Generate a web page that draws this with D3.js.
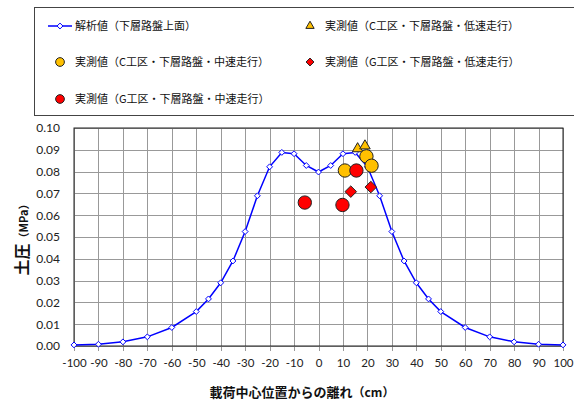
<!DOCTYPE html>
<html>
<head>
<meta charset="utf-8">
<script src="https://cdn.jsdelivr.net/npm/d3@7"></script>
<style>
  body { margin: 0; background: #fff; }
  svg { display: block; }
</style>
</head>
<body>
<div id="chart"></div>
<script>
// analysis curve (解析値)
const calcX = [-100, -90, -80, -70, -60, -50, -45, -40, -35, -30, -25, -20, -15, -10, -5, 0,
               5, 10, 15, 20, 25, 30, 35, 40, 45, 50, 60, 70, 80, 90, 100];
const calcY = [0.0005, 0.0008, 0.0019, 0.0042, 0.0085, 0.0158, 0.0216, 0.0290, 0.0390, 0.0525, 0.0689, 0.0822, 0.0888, 0.0882, 0.0828, 0.0798,
               0.0828, 0.0882, 0.0888, 0.0822, 0.0689, 0.0525, 0.0390, 0.0290, 0.0216, 0.0158, 0.0085, 0.0042, 0.0019, 0.0008, 0.0005];

// measured points
const cLowX = [16.0, 19.0];          // C工区 低速 (triangle)
const cLowY = [0.0905, 0.0918];
const cMidX = [10.8, 19.6, 21.7];    // C工区 中速 (orange circle)
const cMidY = [0.0805, 0.0870, 0.0827];
const gLowX = [13.2, 21.4];          // G工区 低速 (red diamond)
const gLowY = [0.0708, 0.0729];
const gMidX = [-5.6, 9.8, 15.5];     // G工区 中速 (red circle)
const gMidY = [0.0658, 0.0647, 0.0805];

const xTicks = d3.range(-100, 101, 10);
const yTicks = d3.range(0, 0.1001, 0.01);

const legendLabels = [
  "解析値（下層路盤上面）",
  "実測値（C工区・下層路盤・低速走行）",
  "実測値（C工区・下層路盤・中速走行）",
  "実測値（G工区・下層路盤・低速走行）",
  "実測値（G工区・下層路盤・中速走行）"
];

const width = 574, height = 403;
const margin = {left: 74, right: 11, top: 128, bottom: 57};
const latin = "Lato, 'Open Sans', sans-serif";
const jp = "'Noto Sans CJK JP', sans-serif";

const svg = d3.select('#chart').append('svg')
  .attr('width', width)
  .attr('height', height);

const x = d3.scaleLinear().domain([-100, 100]).range([margin.left, width - margin.right]);
const y = d3.scaleLinear().domain([0, 0.1]).range([height - margin.bottom, margin.top]);

// grid
svg.append('g').selectAll('line').data(xTicks).join('line')
  .attr('x1', d => Math.round(x(d)) + 0.5).attr('x2', d => Math.round(x(d)) + 0.5)
  .attr('y1', y(0.1)).attr('y2', y(0) + 5)
  .attr('stroke', '#999').attr('stroke-width', 1);
svg.append('g').selectAll('line').data(yTicks).join('line')
  .attr('x1', x(-100)).attr('x2', x(100))
  .attr('y1', d => Math.round(y(d)) + 0.5).attr('y2', d => Math.round(y(d)) + 0.5)
  .attr('stroke', '#999').attr('stroke-width', 1);

// plot frame
svg.append('rect')
  .attr('x', x(-100)).attr('y', y(0.1))
  .attr('width', x(100) - x(-100)).attr('height', y(0) - y(0.1))
  .attr('fill', 'none').attr('stroke', '#222').attr('stroke-width', 1);

// axes
const xAxis = svg.append('g')
  .attr('transform', `translate(0,${y(0)})`)
  .call(d3.axisBottom(x).tickValues(xTicks).tickSize(0).tickPadding(13).tickFormat(d => String(d)));
const yAxis = svg.append('g')
  .attr('transform', `translate(${x(-100)},0)`)
  .call(d3.axisLeft(y).tickValues(yTicks).tickSize(0).tickPadding(14).tickFormat(d3.format('.2f')));
[xAxis, yAxis].forEach(a => {
  a.select('.domain').remove();
  a.selectAll('text').attr('font-family', latin).attr('font-size', 12).attr('fill', '#222');
});
xAxis.selectAll('text').attr('font-size', 11.5);

// axis titles
const xt = svg.append('text')
  .attr('x', 302).attr('y', 397)
  .attr('text-anchor', 'middle')
  .attr('font-family', jp).attr('font-weight', 'bold').attr('font-size', 13).attr('fill', '#111');
xt.append('tspan').text('載荷中心位置からの離れ');
xt.append('tspan').attr('font-size', 12).text('（cm）');

const yt = svg.append('text')
  .attr('transform', 'translate(28,237) rotate(-90)')
  .attr('text-anchor', 'middle')
  .attr('font-family', jp).attr('font-weight', 'bold').attr('fill', '#111');
yt.append('tspan').attr('font-size', 16).text('土圧');
yt.append('tspan').attr('font-size', 11).text('（MPa）');

// analysis line
const calc = calcX.map((v, i) => ({x: v, y: calcY[i]}));
svg.append('path').datum(calc)
  .attr('fill', 'none').attr('stroke', '#0000ff').attr('stroke-width', 1.5)
  .attr('d', d3.line().x(d => x(d.x)).y(d => y(d.y)));

const diamondSmall = d3.symbol().type(d3.symbolDiamond2).size(22);
svg.append('g').selectAll('path').data(calc).join('path')
  .attr('transform', d => `translate(${x(d.x)},${y(d.y)})`)
  .attr('d', diamondSmall)
  .attr('fill', '#fff').attr('stroke', '#0000ff').attr('stroke-width', 1);

// measured markers
const tri = d3.symbol().type(d3.symbolTriangle).size(48);
const circ = d3.symbol().type(d3.symbolCircle).size(140);
const dia = d3.symbol().type(d3.symbolDiamond2).size(85);

function drawPoints(xs, ys, sym, fill) {
  svg.append('g').selectAll('path').data(xs).join('path')
    .attr('transform', (d, i) => `translate(${x(d)},${y(ys[i])})`)
    .attr('d', sym)
    .attr('fill', fill).attr('stroke', '#222').attr('stroke-width', 1);
}
drawPoints(cLowX, cLowY, tri, '#ffc000');
drawPoints(cMidX, cMidY, circ, '#ffc000');
drawPoints(gLowX, gLowY, dia, '#ff0000');
drawPoints(gMidX, gMidY, circ, '#ff0000');

// legend
svg.append('rect')
  .attr('x', 34.5).attr('y', 7.5).attr('width', 560).attr('height', 108)
  .attr('fill', '#fff').attr('stroke', '#444').attr('stroke-width', 1);

const legendPos = [[60, 26], [310, 26], [60, 62], [310, 62], [60, 99]];
const legendSym = [null, d3.symbol().type(d3.symbolTriangle).size(30), d3.symbol().type(d3.symbolCircle).size(60),
                   d3.symbol().type(d3.symbolDiamond2).size(40), d3.symbol().type(d3.symbolCircle).size(60)];
const legendFill = ['#fff', '#ffc000', '#ffc000', '#ff0000', '#ff0000'];

const leg = svg.append('g');
legendLabels.forEach((label, i) => {
  const [lx, ly] = legendPos[i];
  if (i === 0) {
    leg.append('line').attr('x1', lx - 12).attr('x2', lx + 12).attr('y1', ly).attr('y2', ly)
      .attr('stroke', '#0000ff').attr('stroke-width', 1.5);
    leg.append('path').attr('transform', `translate(${lx},${ly})`).attr('d', diamondSmall)
      .attr('fill', '#fff').attr('stroke', '#0000ff');
  } else {
    leg.append('path').attr('transform', `translate(${lx},${ly})`).attr('d', legendSym[i])
      .attr('fill', legendFill[i]).attr('stroke', '#222');
  }
  leg.append('text')
    .attr('x', lx + 15).attr('y', ly)
    .attr('dy', '0.35em')
    .attr('font-family', jp).attr('font-size', 11).attr('fill', '#111')
    .text(label);
});
</script>
</body>
</html>
